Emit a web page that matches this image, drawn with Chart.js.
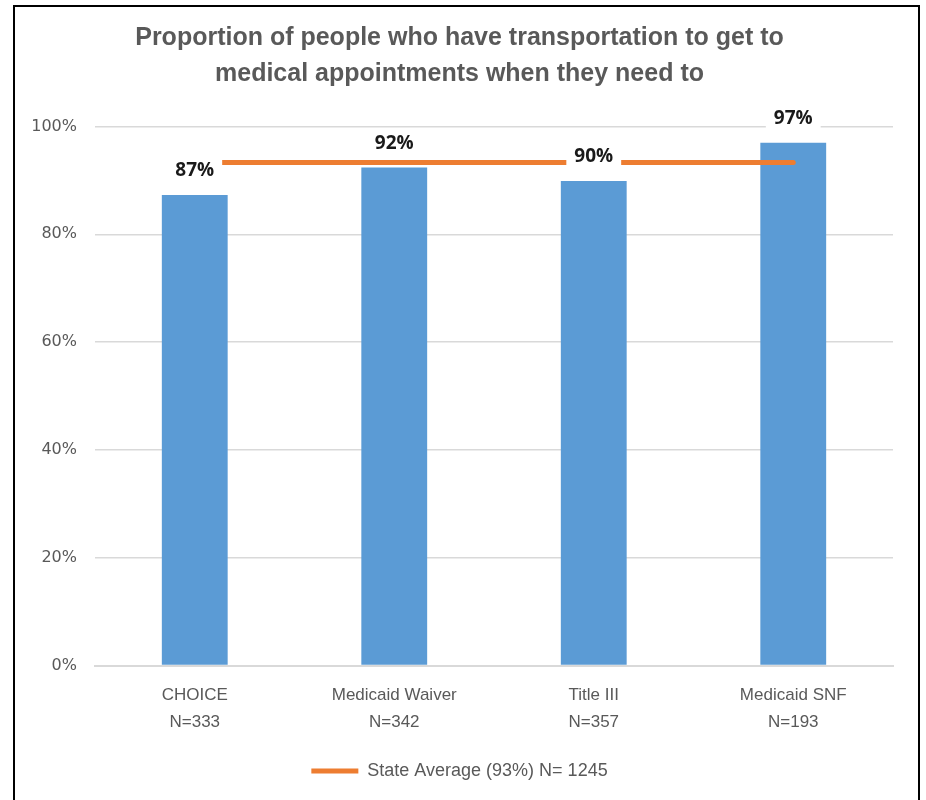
<!DOCTYPE html>
<html>
<head>
<meta charset="utf-8">
<script src="https://cdn.jsdelivr.net/npm/chart.js@4/dist/chart.umd.min.js"></script>
<style>
  html, body { margin: 0; padding: 0; background: #fff; overflow: hidden; }
  #wrap { position: relative; width: 926px; height: 800px; }
  #frame { position: absolute; left: 13px; top: 5px; width: 903px; height: 820px; border: 2px solid #000; pointer-events: none; }
  canvas { position: absolute; left: 0; top: 0; }
</style>
</head>
<body>
<div id="wrap">
  <canvas id="chart" width="926" height="800"></canvas>
  <div id="frame"></div>
</div>
<script>
// chart data
const categories = [['CHOICE', 'N=333'], ['Medicaid Waiver', 'N=342'], ['Title III', 'N=357'], ['Medicaid SNF', 'N=193']];
const programValues = [87.3, 92.4, 89.9, 97.0];
const valueLabels = ['87%', '92%', '90%', '97%'];
const stateAverage = [93.3, 93.3, 93.3, 93.3];
const averageLabel = 'State Average (93%) N= 1245';
const titleLines = ['Proportion of people who have transportation to get to', 'medical appointments when they need to'];

const BLUE = '#5B9BD5';
const ORANGE = '#ED7D31';
const GRAY = '#595959';
const GRID = '#d9d9d9';
const NARROW = "'Liberation Sans Narrow', 'Arial Narrow', sans-serif";

// value labels over the bars, white box behind them (cuts the grid and average line like the original)
const barLabels = {
    id: 'barLabels',
    afterDatasetsDraw(chart) {
        const ctx = chart.ctx;
        const meta = chart.getDatasetMeta(0);
        ctx.save();
        ctx.font = "bold 19px 'Open Sans', sans-serif";
        ctx.textAlign = 'center';
        ctx.textBaseline = 'middle';
        meta.data.forEach((bar, i) => {
            const txt = valueLabels[i];
            const w = ctx.measureText(txt).width + 16;
            const y = bar.y - 25;
            ctx.fillStyle = '#fff';
            ctx.fillRect(bar.x - w / 2, y - 14, w, 28);
            ctx.fillStyle = '#1a1a1a';
            ctx.fillText(txt, bar.x, y + 1);
        });
        ctx.restore();
    }
};

const ctx = document.getElementById('chart').getContext('2d');
new Chart(ctx, {
    data: {
        labels: categories,
        datasets: [{
            type: 'bar',
            label: 'Programs',
            data: programValues,
            backgroundColor: BLUE,
            barPercentage: 0.33,
            categoryPercentage: 1,
            order: 2
        }, {
            type: 'line',
            label: averageLabel,
            data: stateAverage,
            borderColor: ORANGE,
            backgroundColor: ORANGE,
            borderWidth: 5,
            borderCapStyle: 'round',
            pointRadius: 0,
            fill: false,
            order: 1
        }]
    },
    options: {
        responsive: false,
        animation: false,
        layout: { padding: { left: 26, right: 33, top: 0, bottom: 10 } },
        plugins: {
            title: {
                display: true,
                text: titleLines,
                color: GRAY,
                font: { family: NARROW, size: 25, weight: 'bold', lineHeight: 1.45 },
                padding: { top: 20, bottom: 34 }
            },
            legend: {
                position: 'bottom',
                labels: {
                    color: GRAY,
                    font: { family: NARROW, size: 18 },
                    boxWidth: 47,
                    boxHeight: 5,
                    padding: 10,
                    generateLabels: () => [{
                        text: averageLabel,
                        fillStyle: ORANGE,
                        strokeStyle: ORANGE,
                        lineWidth: 0,
                        fontColor: GRAY,
                        datasetIndex: 1
                    }]
                }
            },
            tooltip: { enabled: false }
        },
        scales: {
            x: {
                grid: { display: false, drawTicks: false },
                border: { display: true, color: GRID, width: 2 },
                ticks: {
                    color: GRAY,
                    font: { family: NARROW, size: 17, lineHeight: 1.6 },
                    padding: 16,
                    maxRotation: 0
                }
            },
            y: {
                min: 0,
                max: 100,
                afterFit(scale) { scale.width = 69; },
                grid: { color: GRID, lineWidth: 1.5, drawTicks: false },
                border: { display: false },
                ticks: {
                    stepSize: 20,
                    color: GRAY,
                    font: { family: "'DejaVu Sans', sans-serif", size: 16 },
                    padding: 18,
                    callback: v => v + '%'
                }
            }
        }
    },
    plugins: [barLabels]
});
</script>
</body>
</html>
